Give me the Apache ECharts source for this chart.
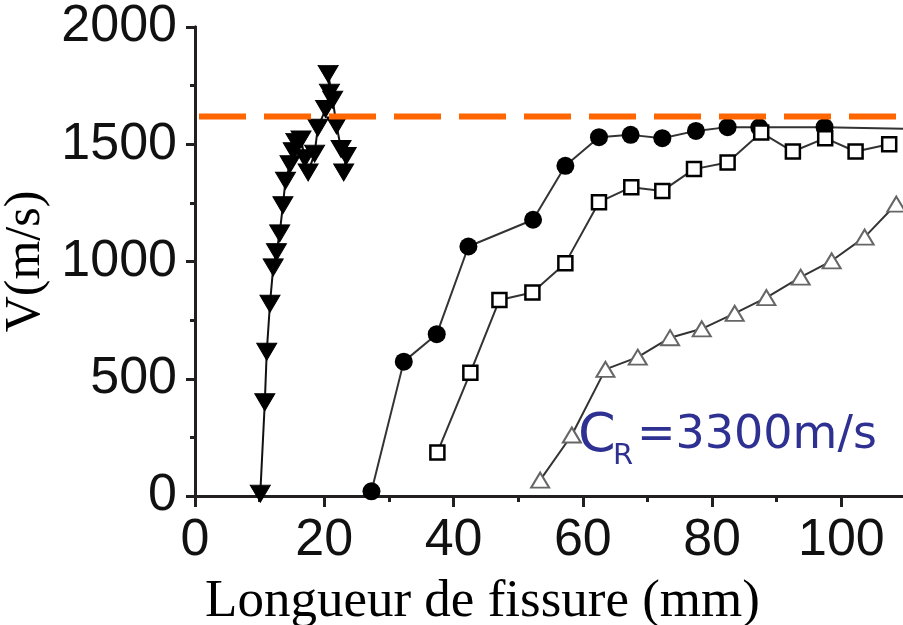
<!DOCTYPE html>
<html>
<head>
<meta charset="utf-8">
<script src="https://cdn.jsdelivr.net/npm/echarts@6/dist/echarts.min.js"></script>
<style>
  html, body { margin: 0; padding: 0; background: #fff; }
  #chart { width: 903px; height: 625px; }
</style>
</head>
<body>
<div id="chart"></div>
<script>
// données : [longueur (mm), V (m/s)]
const triDown = [
  [10.1, 10], [10.8, 400], [11.1, 615], [11.6, 820], [12.1, 975], [12.6, 1040],
  [13.1, 1120], [13.6, 1240], [14.0, 1345], [14.7, 1415], [15.2, 1470], [15.6, 1510],
  [16.4, 1520], [17.0, 1440], [17.5, 1380], [18.5, 1460], [19.0, 1570], [20.2, 1650],
  [20.8, 1720], [20.6, 1800], [21.3, 1690], [21.9, 1580], [22.6, 1480], [23.4, 1450],
  [23.0, 1380]
];
const circles = [
  [27.3, 20], [32.3, 573], [37.4, 690], [42.3, 1064], [52.3, 1178], [57.3, 1408],
  [62.5, 1530], [67.4, 1540], [72.3, 1526], [77.5, 1557], [82.4, 1573], [87.3, 1572],
  [97.4, 1573], [112, 1565]
];
const squares = [
  [37.5, 186], [42.6, 526], [47.1, 836], [52.2, 868], [57.3, 993], [62.5, 1253],
  [67.5, 1317], [72.3, 1301], [77.2, 1394], [82.4, 1422], [87.6, 1550], [92.5, 1469],
  [97.5, 1526], [102.2, 1469], [107.4, 1500]
];
const triUp = [
  [53.4, 68], [58.3, 260], [63.5, 540], [68.5, 592], [73.5, 675], [78.4, 713],
  [83.5, 779], [88.4, 846], [93.7, 933], [98.5, 1003], [103.6, 1104], [108.5, 1245]
];
const cR = 1618;
const xTicks = [0, 110, 20];
const yTicks = [0, 2000, 500];

const axisCol = '#231f20';
const chart = echarts.init(document.getElementById('chart'));

const baseAxisLine = {show: true, lineStyle: {color: axisCol, width: 3}};
const plain = v => String(v);

chart.setOption({
  animation: false,
  grid: {left: 195, right: -3, top: 27, bottom: 129, containLabel: false, outerBoundsMode: 'none'},
  xAxis: [{
    type: 'value', min: xTicks[0], max: xTicks[1], interval: xTicks[2],
    name: 'Longueur de fissure (mm)', nameLocation: 'middle', nameGap: 80,
    nameTextStyle: {fontFamily: 'Liberation Serif', fontSize: 53, color: '#000', padding: [0, 136, 0, 0]},
    axisLine: baseAxisLine,
    axisTick: {show: true, inside: false, length: 11, lineStyle: {color: axisCol, width: 3}},
    minorTick: {show: true, splitNumber: 2, length: 6, lineStyle: {color: axisCol, width: 3}},
    axisLabel: {fontFamily: 'Liberation Sans', fontSize: 52, color: '#111', margin: 19, formatter: plain},
    splitLine: {show: false}
  }, {
    type: 'value', position: 'top', min: xTicks[0], max: xTicks[1], interval: xTicks[2],
    axisLine: baseAxisLine,
    axisTick: {show: true, inside: true, length: 9, lineStyle: {color: axisCol, width: 3}},
    minorTick: {show: true, splitNumber: 2, length: 5, lineStyle: {color: axisCol, width: 3}},
    axisLabel: {show: false}, splitLine: {show: false}
  }],
  yAxis: [{
    type: 'value', min: yTicks[0], max: yTicks[1], interval: yTicks[2],
    name: 'V(m/s)', nameLocation: 'middle', nameGap: 127, nameRotate: 90,
    nameTextStyle: {fontFamily: 'Liberation Serif', fontSize: 50, color: '#000'},
    axisLine: baseAxisLine,
    axisTick: {show: true, inside: false, length: 9, lineStyle: {color: axisCol, width: 3}},
    minorTick: {show: true, splitNumber: 2, length: 5, lineStyle: {color: axisCol, width: 3}},
    axisLabel: {fontFamily: 'Liberation Sans', fontSize: 52, color: '#111', margin: 18, formatter: plain},
    splitLine: {show: false}
  }, {
    type: 'value', position: 'right', min: yTicks[0], max: yTicks[1], interval: yTicks[2],
    axisLine: baseAxisLine,
    axisTick: {show: true, inside: true, length: 9, lineStyle: {color: axisCol, width: 3}},
    minorTick: {show: true, splitNumber: 2, length: 5, lineStyle: {color: axisCol, width: 3}},
    axisLabel: {show: false}, splitLine: {show: false}
  }],
  series: [{
    type: 'line', data: triDown, symbol: 'triangle', symbolRotate: 180, symbolSize: [20, 17],
    itemStyle: {color: '#000', borderColor: '#000'}, lineStyle: {color: '#111', width: 2}, z: 3
  }, {
    type: 'line', data: circles, symbol: 'circle', symbolSize: 18,
    itemStyle: {color: '#000'}, lineStyle: {color: '#333', width: 2}, z: 3
  }, {
    type: 'line', data: squares, symbol: 'rect', symbolSize: 14,
    itemStyle: {color: '#fff', borderColor: '#000', borderWidth: 2.5},
    lineStyle: {color: '#333', width: 2}, z: 3
  }, {
    type: 'line', data: triUp, symbol: 'triangle', symbolSize: [18, 15],
    itemStyle: {color: '#fff', borderColor: '#666', borderWidth: 2},
    lineStyle: {color: '#333', width: 2}, z: 3
  }, {
    type: 'line', data: [[xTicks[0], cR], [xTicks[1], cR]], symbol: 'none',
    lineStyle: {color: '#ff6600', width: 6, type: [47, 18], dashOffset: -4}, z: 5
  }],
  graphic: [
    {type: 'text', left: 578, top: 410, z: 10,
     style: {text: 'C', font: '54px "DejaVu Sans"', fill: '#2e3192'}},
    {type: 'text', left: 613, top: 442, z: 10,
     style: {text: 'R', font: '29px "DejaVu Sans"', fill: '#2e3192'}},
    {type: 'text', left: 637, top: 413, z: 10,
     style: {text: '=3300m/s', font: '46px "DejaVu Sans"', fill: '#2e3192'}}
  ]
});
</script>
</body>
</html>
